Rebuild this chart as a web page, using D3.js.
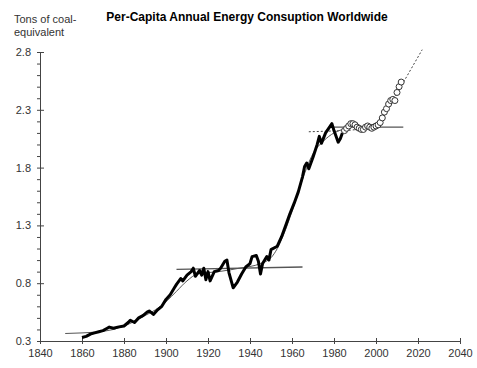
<!DOCTYPE html>
<html>
<head>
<meta charset="utf-8">
<script src="https://cdn.jsdelivr.net/npm/d3@7"></script>
<style>
  body { margin: 0; background: #fff; }
  text { font-family: "Liberation Sans", Arial, sans-serif; }
</style>
</head>
<body>
<div id="chart"></div>
<script>
// per-capita energy use, tons of coal-equivalent
const historyYears = [1860,1862,1864,1866,1868,1870,1872,1873,1875,1877,1880,1882,1883,1885,1887,1889,1891,1892,1894,1896,1898,1900,1902,1904,1905,1907,1908,1910,1912,1913,1914,1916,1917,1918,1919,1920,1921,1923,1925,1926,1928,1929,1930,1932,1934,1936,1938,1940,1941,1943,1944,1945,1946,1948,1949,1950,1953,1955,1957,1959,1961,1963,1965,1966,1967,1968,1970,1972,1973,1974,1976,1979,1980,1982,1983,1984];
const historyValues = [0.33,0.34,0.36,0.37,0.38,0.39,0.41,0.42,0.41,0.42,0.43,0.46,0.48,0.46,0.50,0.52,0.55,0.56,0.53,0.57,0.60,0.66,0.70,0.76,0.79,0.84,0.82,0.87,0.90,0.93,0.86,0.91,0.87,0.93,0.83,0.90,0.82,0.90,0.91,0.93,0.99,1.00,0.89,0.76,0.81,0.88,0.94,0.97,1.03,1.04,0.99,0.88,0.97,1.03,1.00,1.09,1.12,1.20,1.30,1.40,1.49,1.59,1.72,1.81,1.84,1.79,1.89,2.00,2.07,2.01,2.10,2.18,2.12,2.02,2.05,2.10];

const recentYears = [1985,1986,1987,1988,1989,1990,1991,1992,1993,1994,1995,1996,1997,1998,1999,2000,2001,2002,2003,2004,2005,2006,2007,2008,2009,2010,2011,2012];
const recentValues = [2.12,2.14,2.16,2.18,2.18,2.17,2.15,2.14,2.13,2.13,2.15,2.16,2.15,2.14,2.15,2.16,2.17,2.19,2.23,2.28,2.31,2.35,2.38,2.39,2.38,2.45,2.50,2.54];

// thin smooth fit through the history
const fitYears = [1852,1860,1868,1875,1880,1885,1890,1895,1900,1905,1910,1915,1925,1935,1945,1950,1953,1956,1960,1965,1970,1975,1980,1984];
const fitValues = [0.365,0.37,0.38,0.40,0.43,0.47,0.52,0.57,0.64,0.73,0.82,0.88,0.90,0.93,0.97,1.02,1.10,1.22,1.42,1.70,1.92,2.03,2.10,2.13];

// plateau lines and the dotted projection
const plateau1 = [[1905, 0.92], [1965, 0.94]];
const plateau2 = [[1980, 2.15], [2013, 2.15]];
const projection = [[1968, 2.11], [1985, 2.12], [1998, 2.14], [2002, 2.19], [2022, 2.82]];

const xTicks = [1840,1860,1880,1900,1920,1940,1960,1980,2000,2020,2040];
const yTicks = [0.3,0.8,1.3,1.8,2.3,2.8];

const width = 477, height = 368;
const margin = {top: 52, right: 17, bottom: 27, left: 40};

const svg = d3.select("#chart").append("svg")
    .attr("width", width)
    .attr("height", height);

const x = d3.scaleLinear().domain([1840, 2040]).range([margin.left, width - margin.right]);
const y = d3.scaleLinear().domain([0.3, 2.8]).range([height - margin.bottom, margin.top]);

// axes
const minorTicks = d3.range(3, 29).map(d => d / 10);
svg.append("g")
    .attr("transform", `translate(${margin.left},0)`)
    .call(d3.axisLeft(y).tickValues(minorTicks).tickSize(3).tickFormat(""))
    .call(g => g.select(".domain").remove())
    .call(g => g.selectAll("line").attr("stroke", "#444"));

const yAxis = svg.append("g")
    .attr("transform", `translate(${margin.left},0)`)
    .call(d3.axisLeft(y).tickValues(yTicks).tickSize(4).tickSizeOuter(0).tickPadding(5).tickFormat(d3.format(".1f")));
yAxis.selectAll("line").attr("x2", 4);

const xAxis = svg.append("g")
    .attr("transform", `translate(0,${height - margin.bottom})`)
    .call(d3.axisBottom(x).tickValues(xTicks).tickSize(3).tickSizeOuter(0).tickPadding(5).tickFormat(d3.format("d")));
xAxis.selectAll("line").attr("y1", -3);

svg.selectAll(".domain").attr("stroke", "#444");
svg.selectAll(".tick line").attr("stroke", "#444");
svg.selectAll(".tick text").attr("font-size", 11).attr("fill", "#333")
    .attr("font-family", "'Liberation Sans', Arial, sans-serif");

const line = d3.line().x(d => x(d[0])).y(d => y(d[1]));

// thin fit and plateaus
svg.append("path")
    .datum(fitYears.map((d, i) => [d, fitValues[i]]))
    .attr("fill", "none").attr("stroke", "#555").attr("stroke-width", 1)
    .attr("d", line.curve(d3.curveMonotoneX));
line.curve(d3.curveLinear);

svg.selectAll(".plateau")
    .data([plateau1, plateau2])
    .enter().append("path")
    .attr("class", "plateau")
    .attr("fill", "none").attr("stroke", "#555").attr("stroke-width", 1.3)
    .attr("d", line);

svg.append("path")
    .datum(projection)
    .attr("fill", "none").attr("stroke", "#444").attr("stroke-width", 1)
    .attr("stroke-dasharray", "2,2")
    .attr("d", line);

// main history line
svg.append("path")
    .datum(historyYears.map((d, i) => [d, historyValues[i]]))
    .attr("fill", "none").attr("stroke", "#000").attr("stroke-width", 3)
    .attr("stroke-linejoin", "round")
    .attr("d", line);

// recent years as open circles
svg.selectAll(".recent")
    .data(recentYears.map((d, i) => [d, recentValues[i]]))
    .enter().append("circle")
    .attr("class", "recent")
    .attr("cx", d => x(d[0]))
    .attr("cy", d => y(d[1]))
    .attr("r", 3)
    .attr("fill", "#fff")
    .attr("stroke", "#333")
    .attr("stroke-width", 1);

// titles
svg.append("text")
    .attr("x", 247).attr("y", 21)
    .attr("text-anchor", "middle")
    .attr("font-size", 12).attr("font-weight", "bold")
    .text("Per-Capita Annual Energy Consuption Worldwide");

svg.append("text")
    .attr("x", 14).attr("y", 23)
    .attr("font-size", 11).attr("fill", "#333")
    .text("Tons of coal-");
svg.append("text")
    .attr("x", 14).attr("y", 36)
    .attr("font-size", 11).attr("fill", "#333")
    .text("equivalent");
</script>
</body>
</html>
